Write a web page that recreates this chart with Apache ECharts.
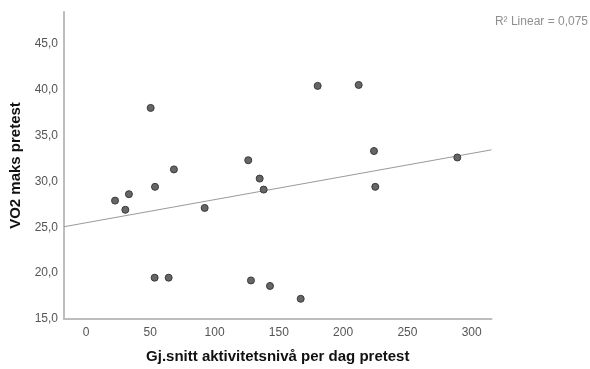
<!DOCTYPE html>
<html>
<head>
<meta charset="utf-8">
<script src="https://cdn.jsdelivr.net/npm/echarts@6/dist/echarts.min.js"></script>
<style>
html,body{margin:0;padding:0;background:#fff;}
#chart{width:590px;height:369px;}
</style>
</head>
<body>
<div id="chart"></div>
<script>
// Gj.snitt aktivitetsnivå per dag pretest (x) and VO2 maks pretest (y)
var activity = [50.3,126.2,68.4,135.1,53.7,138.2,33.4,22.6,30.6,92.3,53.4,64.3,128.3,143.1,167.0,180.2,212.1,224.0,288.8,225.0];
var vo2 = [38.0,32.3,31.3,30.3,29.4,29.1,28.6,27.9,26.9,27.1,19.5,19.5,19.2,18.6,17.2,40.4,40.5,33.3,32.6,29.4];
var xTicks = [0,50,100,150,200,250,300];
var yTicks = [15,20,25,30,35,40,45];
var xTitle = 'Gj.snitt aktivitetsnivå per dag pretest';
var yTitle = 'VO2 maks pretest';
var fitLabel = 'R\u00b2 Linear = 0,075';

var xMin = -17.1, xMax = 315.4, yMin = 15, yMax = 48.45;

// least squares fit line
var n = activity.length, mx = 0, my = 0;
for (var i = 0; i < n; i++) { mx += activity[i]; my += vo2[i]; }
mx /= n; my /= n;
var sxy = 0, sxx = 0;
for (var i = 0; i < n; i++) { sxy += (activity[i]-mx)*(vo2[i]-my); sxx += (activity[i]-mx)*(activity[i]-mx); }
var slope = sxy/sxx, icpt = my - slope*mx;
var fitLine = [[xMin, icpt + slope*xMin], [xMax, icpt + slope*xMax]];

var points = activity.map(function(v, i){ return [v, vo2[i]]; });

var chart = echarts.init(document.getElementById('chart'), null, {renderer:'canvas'});
var font = 'Liberation Sans, Arial, sans-serif';
chart.setOption({
  animation: false,
  backgroundColor: '#fff',
  grid: {left: 64, right: 98.5, top: 12, bottom: 47, containLabel: false},
  title: {
    text: fitLabel, right: 2, top: 16, padding: 0,
    textStyle: {fontFamily: font, fontSize: 12, fontWeight: 'normal', color: '#8f8f8f'}
  },
  xAxis: {
    type: 'value', min: xMin, max: xMax,
    name: xTitle, nameLocation: 'middle', nameGap: 30,
    nameTextStyle: {fontFamily: font, fontSize: 15, fontWeight: 'bold', color: '#111'},
    axisLine: {show: true, onZero: false, lineStyle: {color: '#bdbdbd', width: 2}},
    axisTick: {show: false},
    splitLine: {show: false},
    axisLabel: {
      fontFamily: font, fontSize: 12, color: '#555', margin: 8,
      customValues: xTicks,
      formatter: function(v){ return String(v); }
    }
  },
  yAxis: {
    type: 'value', min: yMin, max: yMax,
    name: yTitle, nameLocation: 'middle', nameGap: 36, nameRotate: 90,
    nameTextStyle: {fontFamily: font, fontSize: 15, fontWeight: 'bold', color: '#111'},
    axisLine: {show: true, onZero: false, lineStyle: {color: '#bdbdbd', width: 2}},
    axisTick: {show: false},
    splitLine: {show: false},
    axisLabel: {
      fontFamily: font, fontSize: 12, color: '#555', margin: 6,
      customValues: yTicks,
      formatter: function(v){ return v.toFixed(1).replace('.', ','); }
    }
  },
  series: [
    {
      type: 'line', data: fitLine, symbol: 'none', silent: true,
      lineStyle: {color: '#9a9a9a', width: 1}, z: 1
    },
    {
      type: 'scatter', data: points, symbol: 'circle', symbolSize: 7,
      itemStyle: {color: '#666', borderColor: '#3a3a3a', borderWidth: 1, opacity: 1}, z: 2
    }
  ]
});
</script>
</body>
</html>
